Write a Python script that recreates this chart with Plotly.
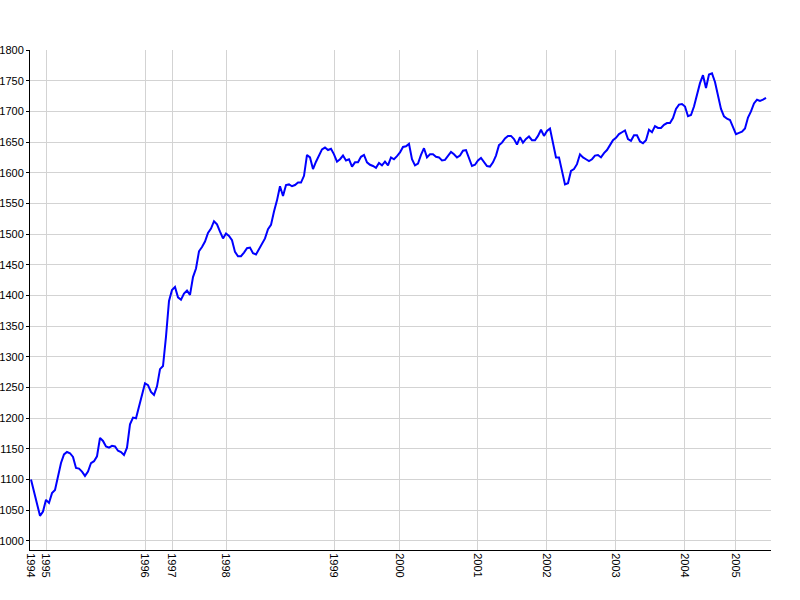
import plotly.graph_objects as go

values = [
    1100, 1080, 1057, 1041, 1048, 1067, 1062, 1078, 1083, 1106,
    1127, 1141, 1145, 1143, 1137, 1119, 1118, 1113, 1106, 1113,
    1127, 1130, 1138, 1168, 1163, 1154, 1152, 1155, 1154, 1147,
    1145, 1140, 1152, 1190, 1201, 1200, 1220, 1242, 1257, 1254,
    1243, 1238, 1252, 1280, 1285, 1333, 1391, 1409, 1414, 1397,
    1393, 1403, 1408, 1401, 1430, 1444, 1472, 1479, 1488, 1502,
    1509, 1521, 1516, 1504, 1493, 1501, 1497, 1490, 1471, 1464,
    1464, 1470, 1477, 1478, 1469, 1467, 1476, 1484, 1493, 1508,
    1515, 1537, 1555, 1578, 1562, 1580, 1581, 1578, 1580, 1584,
    1584, 1595, 1629, 1625, 1606, 1618, 1627, 1638, 1641, 1637,
    1639, 1630, 1618, 1622, 1628, 1620, 1622, 1610, 1617, 1617,
    1626, 1629, 1617, 1613, 1611, 1608, 1616, 1612, 1618, 1612,
    1625, 1622, 1627, 1633, 1642, 1643, 1647, 1622, 1612, 1615,
    1629, 1640, 1625, 1630, 1630, 1626, 1625, 1620, 1621, 1627,
    1634, 1630, 1625, 1628, 1636, 1637, 1623, 1611, 1613, 1620,
    1624, 1617, 1611, 1610, 1617, 1628, 1645, 1649, 1656, 1660,
    1660, 1655, 1646, 1658, 1649, 1655, 1659, 1653, 1653, 1660,
    1670, 1660, 1668, 1672, 1650, 1625, 1625, 1602, 1581, 1583,
    1603, 1606, 1614, 1630, 1625, 1622, 1619, 1622, 1628, 1629,
    1625, 1632, 1637, 1645, 1653, 1657, 1663, 1666, 1669, 1655,
    1652, 1661, 1661, 1651, 1648, 1653, 1670, 1666, 1676, 1673,
    1673, 1678, 1681, 1681, 1689, 1704, 1711, 1712, 1708, 1692,
    1694, 1708, 1728, 1746, 1759, 1738, 1760, 1762, 1748, 1725,
    1704, 1692, 1688, 1686, 1674, 1663, 1665, 1667, 1672, 1690,
    1700, 1713, 1719, 1717, 1719, 1722,
]

year_labels = ["1994", "1995", "1996", "1997", "1998", "1999",
               "2000", "2001", "2002", "2003", "2004", "2005"]
year_start_index = [0, 5, 38, 47, 65, 101, 123, 149, 172, 195, 218, 235]

y_ticks = list(range(1000, 1801, 50))

fig = go.Figure()
fig.add_trace(go.Scatter(
    x=list(range(len(values))),
    y=values,
    mode="lines",
    line=dict(color="#0000FF", width=2),
    hoverinfo="skip",
))

fig.update_layout(
    width=800, height=600,
    margin=dict(l=30, r=29, t=50, b=50),
    paper_bgcolor="white",
    plot_bgcolor="white",
    showlegend=False,
    font=dict(family="Liberation Sans, Arial, sans-serif", size=11, color="black"),
)

fig.update_xaxes(
    range=[-0.333, 246.67],
    tickmode="array",
    tickvals=year_start_index,
    ticktext=year_labels,
    tickangle=90,
    showgrid=True, gridcolor="#d3d3d3", gridwidth=1,
    showline=True, linecolor="black", linewidth=1,
    ticks="", zeroline=False,
    automargin=False,
)

fig.update_yaxes(
    range=[985.3, 1800],
    tickmode="array",
    tickvals=y_ticks,
    showgrid=True, gridcolor="#d3d3d3", gridwidth=1,
    showline=True, linecolor="black", linewidth=1,
    ticks="outside", ticklen=3, tickcolor="black",
    zeroline=False,
    automargin=False,
)

fig.write_html("out.html", config={"displayModeBar": False},
               post_script="document.body.style.margin='0';")
